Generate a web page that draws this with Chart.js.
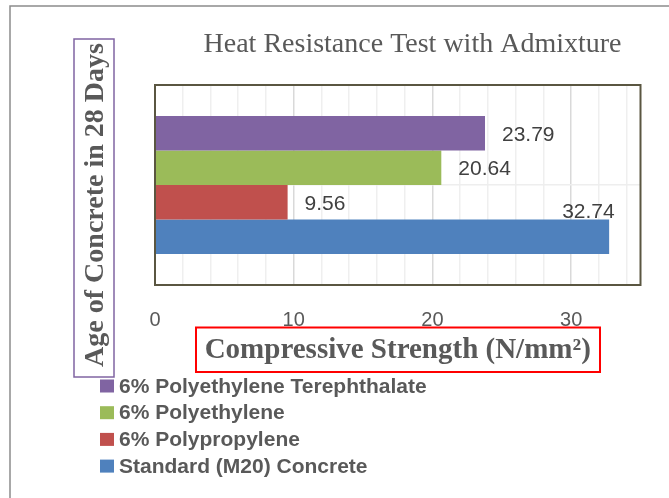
<!DOCTYPE html>
<html lang="en">
<head>
<meta charset="UTF-8">
<title>Heat Resistance Test with Admixture</title>
<script src="https://cdn.jsdelivr.net/npm/chart.js"></script>
<style>
  html, body { margin: 0; padding: 0; background: #ffffff; }
  #chart-wrap { position: relative; width: 669px; height: 498px; }
</style>
</head>
<body>
<div id="chart-wrap"><canvas id="heatChart"></canvas></div>
<script>
// chart data
const categories = ['28 Days'];
const seriesNames = ['6% Polyethylene Terephthalate', '6% Polyethylene', '6% Polypropylene', 'Standard (M20) Concrete'];
const seriesValues = [23.79, 20.64, 9.56, 32.74];
const seriesColors = ['#8064A2', '#9BBB59', '#C0504D', '#4F81BD'];
const xTickLabels = [0, 10, 20, 30];

const SANS = '"Liberation Sans", Arial, sans-serif';
const SERIF = '"Liberation Serif", "DejaVu Serif", serif';
const TEXT_GRAY = '#595959';

// where Excel put each value label, relative to the bar end
const labelShift = [[17, 1.5], [17, 1.5], [17, 1.5], [-47, -25]];

const chartDecor = {
    id: 'chartDecor',
    beforeDatasetsDraw(chart) {
        const ctx = chart.ctx;
        ctx.save();
        ctx.font = '21px ' + SANS;
        ctx.fillStyle = '#404040';
        ctx.textAlign = 'left';
        ctx.textBaseline = 'middle';
        chart.data.datasets.forEach((ds, i) => {
            const bar = chart.getDatasetMeta(i).data[0];
            ctx.fillText(ds.data[0].toFixed(2), bar.x + labelShift[i][0], bar.y + labelShift[i][1]);
        });
        ctx.restore();
    },
    afterDraw(chart) {
        const ctx = chart.ctx;
        const area = chart.chartArea;
        ctx.save();

        // outer frame (left + top only)
        ctx.strokeStyle = '#8c8c8c';
        ctx.lineWidth = 1.5;
        ctx.beginPath();
        ctx.moveTo(10, 498);
        ctx.lineTo(10, 6);
        ctx.lineTo(669, 6);
        ctx.stroke();

        // plot border
        ctx.strokeStyle = '#5a5641';
        ctx.lineWidth = 2;
        ctx.strokeRect(area.left, area.top, area.right - area.left, area.bottom - area.top);

        // title
        ctx.fillStyle = TEXT_GRAY;
        ctx.font = '28px ' + SERIF;
        ctx.textAlign = 'center';
        ctx.textBaseline = 'middle';
        ctx.fillText('Heat Resistance Test with Admixture', 412.5, 45);

        // y axis title in purple box
        ctx.strokeStyle = '#8064A2';
        ctx.lineWidth = 1.5;
        ctx.strokeRect(74, 39, 40, 338);
        ctx.save();
        ctx.translate(95.5, 205);
        ctx.rotate(-Math.PI / 2);
        ctx.font = 'bold 28px ' + SERIF;
        ctx.fillText('Age of Concrete in 28 Days', 0, 0);
        ctx.restore();

        // red box round the x axis title
        ctx.strokeStyle = '#ff0000';
        ctx.lineWidth = 2;
        ctx.strokeRect(196, 327.5, 404, 44.5);

        // legend, one item per line
        ctx.font = 'bold 21px ' + SANS;
        ctx.textAlign = 'left';
        chart.data.datasets.forEach((ds, i) => {
            const y = 386 + i * 26.7;
            ctx.fillStyle = ds.backgroundColor;
            ctx.fillRect(100, y - 6.5, 14, 13);
            ctx.fillStyle = TEXT_GRAY;
            ctx.fillText(ds.label, 119, y + 1);
        });

        ctx.restore();
    }
};

const ctx = document.getElementById('heatChart').getContext('2d');
new Chart(ctx, {
    type: 'bar',
    data: {
        labels: categories,
        datasets: seriesNames.map((name, i) => ({
            label: name,
            data: [seriesValues[i]],
            backgroundColor: seriesColors[i],
            borderWidth: 0,
            categoryPercentage: 0.69,
            barPercentage: 1.0
        }))
    },
    options: {
        indexAxis: 'y',
        responsive: true,
        maintainAspectRatio: false,
        animation: false,
        layout: { padding: { left: 155, top: 85, right: 28.5, bottom: 130 } },
        plugins: {
            legend: { display: false },
            title: { display: false },
            tooltip: { enabled: false }
        },
        scales: {
            x: {
                min: 0,
                max: 35,
                afterFit: scale => { scale.height = 83; },
                ticks: {
                    stepSize: 2,
                    includeBounds: false,
                    autoSkip: false,
                    maxRotation: 0,
                    padding: 23,
                    color: TEXT_GRAY,
                    font: { family: SANS, size: 20 },
                    callback: v => xTickLabels.includes(v) ? String(v) : ''
                },
                grid: {
                    drawTicks: false,
                    lineWidth: 1.5,
                    color: c => (c.tick && c.tick.value % 10 === 0) ? '#d9d9d9' : '#efefef'
                },
                border: { display: false },
                title: {
                    display: true,
                    text: 'Compressive Strength (N/mm²)',
                    color: TEXT_GRAY,
                    font: { family: SERIF, size: 29, weight: 'bold' },
                    padding: { top: 5, bottom: 0 }
                }
            },
            y: {
                ticks: { display: false },
                grid: { offset: false, drawTicks: false, color: '#eeeeee', lineWidth: 1.5 },
                border: { display: false }
            }
        }
    },
    plugins: [chartDecor]
});
</script>
</body>
</html>
